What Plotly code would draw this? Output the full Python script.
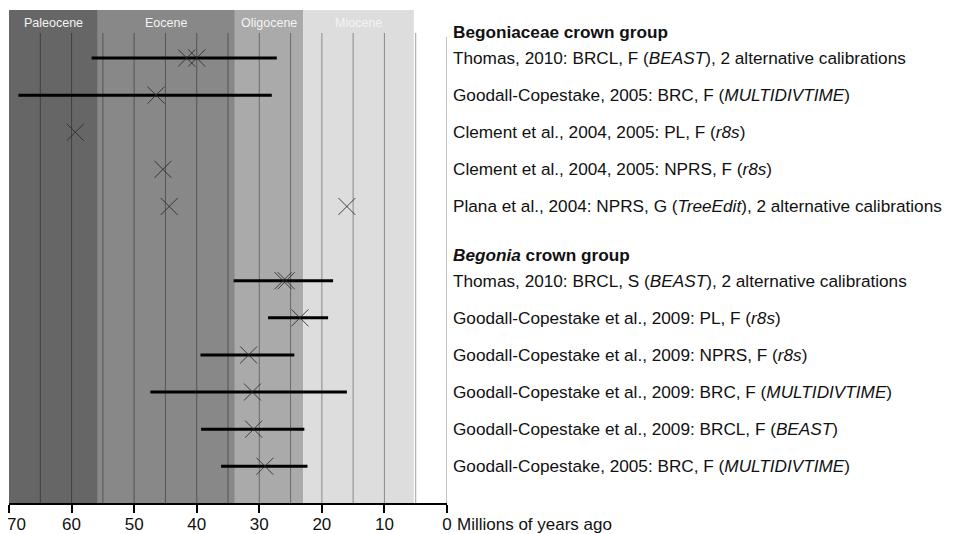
import plotly.graph_objects as go

# ---------------- data ----------------
epoch_names = ["Paleocene", "Eocene", "Oligocene", "Miocene"]
epoch_start = [70.0, 55.8, 33.9, 23.0]
epoch_end = [55.8, 33.9, 23.0, 5.3]
epoch_colors = ["#666666", "#888888", "#aaaaaa", "#dddddd"]

group_headers = ["<b>Begoniaceae crown group</b>", "<b><i>Begonia</i> crown group</b>"]
group_header_rows = [-0.7, 5.3]

row_labels = [
    "Thomas, 2010: BRCL, F (<i>BEAST</i>), 2 alternative calibrations",
    "Goodall-Copestake, 2005: BRC, F (<i>MULTIDIVTIME</i>)",
    "Clement et al., 2004, 2005: PL, F (<i>r8s</i>)",
    "Clement et al., 2004, 2005: NPRS, F (<i>r8s</i>)",
    "Plana et al., 2004: NPRS, G (<i>TreeEdit</i>), 2 alternative calibrations",
    "Thomas, 2010: BRCL, S (<i>BEAST</i>), 2 alternative calibrations",
    "Goodall-Copestake et al., 2009: PL, F (<i>r8s</i>)",
    "Goodall-Copestake et al., 2009: NPRS, F (<i>r8s</i>)",
    "Goodall-Copestake et al., 2009: BRC, F (<i>MULTIDIVTIME</i>)",
    "Goodall-Copestake et al., 2009: BRCL, F (<i>BEAST</i>)",
    "Goodall-Copestake, 2005: BRC, F (<i>MULTIDIVTIME</i>)",
]
row_pos = [0, 1, 2, 3, 4, 6, 7, 8, 9, 10, 11]

# confidence intervals (None = no interval shown)
ci_old = [56.8, 68.5, None, None, None, 34.1, 28.6, 39.4, 47.4, 39.3, 36.1]
ci_young = [27.2, 28.0, None, None, None, 18.2, 19.0, 24.4, 16.0, 22.8, 22.3]

# point estimates (one or two per row)
est_1 = [41.6, 46.5, 59.4, 45.4, 44.4, 26.2, 23.5, 31.7, 31.1, 30.9, 29.1]
est_2 = [40.0, None, None, None, 16.0, 25.7, None, None, None, None, None]

tick_vals = [70, 60, 50, 40, 30, 20, 10, 0]
tick_text = ["70", "60", "50", "40", "30", "20", "10", "0"]
grid_vals = [65, 60, 55, 50, 45, 40, 35, 30, 25, 20, 15, 10, 5]
axis_title = "Millions of years ago"

# ---------------- figure ----------------
OFF = 8  # page body margin
W, H = 964, 534
# target window-pixel geometry of the plot area
X_LEFT, X_RIGHT, Y_TOP, Y_BOT = 9, 447, 10, 503
ML = X_LEFT - OFF
MT = Y_TOP - OFF
MR = W - (X_RIGHT - OFF)
MB = H - (Y_BOT - OFF)
PW, PH = X_RIGHT - X_LEFT, Y_BOT - Y_TOP
FONT = "Liberation Sans, Arial, sans-serif"


def px_x(x):
    return (x - X_LEFT) / PW


def px_y(y):
    return (Y_BOT - y) / PH


fig = go.Figure()

shapes = []
for s, e, c in zip(epoch_start, epoch_end, epoch_colors):
    shapes.append(dict(type="rect", xref="x", yref="paper", x0=s, x1=e, y0=0, y1=1,
                       fillcolor=c, line=dict(width=0), layer="below"))
for g in grid_vals:
    shapes.append(dict(type="line", xref="x", yref="paper", x0=g, x1=g, y0=0, y1=px_y(33),
                       line=dict(color="rgba(0,0,0,0.38)", width=1), layer="below"))
shapes.append(dict(type="line", xref="x", yref="paper", x0=0, x1=0, y0=0, y1=px_y(37),
                   line=dict(color="#b0b0b0", width=1.5), layer="below"))

# intervals
lx, ly = [], []
for y, a, b in zip(row_pos, ci_old, ci_young):
    if a is None:
        continue
    lx += [a, b, None]
    ly += [y, y, None]
fig.add_trace(go.Scatter(x=lx, y=ly, mode="lines", line=dict(color="black", width=3),
                         hoverinfo="skip", showlegend=False, cliponaxis=False))

# point estimates
px_, py_ = [], []
for y, a, b in zip(row_pos, est_1, est_2):
    for v in (a, b):
        if v is not None:
            px_.append(v)
            py_.append(y)
fig.add_trace(go.Scatter(x=px_, y=py_, mode="markers",
                         marker=dict(symbol="x-thin", size=17,
                                     line=dict(color="rgba(40,40,40,0.85)", width=1)),
                         showlegend=False, cliponaxis=False))

annotations = []
for n, s, e in zip(epoch_names, epoch_start, epoch_end):
    annotations.append(dict(x=(s + e) / 2, y=px_y(23), xref="x", yref="paper", text=n,
                            showarrow=False, xanchor="center", yanchor="middle",
                            font=dict(family=FONT, size=12.5, color="#f4f4f4")))
for t, y in zip(row_labels, row_pos):
    annotations.append(dict(x=px_x(451), y=y, xref="paper", yref="y", text=t, showarrow=False,
                            xanchor="left", yanchor="middle",
                            font=dict(family=FONT, size=17.2, color="#111111")))
for t, y in zip(group_headers, group_header_rows):
    annotations.append(dict(x=px_x(451), y=y, xref="paper", yref="y", text=t, showarrow=False,
                            xanchor="left", yanchor="middle",
                            font=dict(family=FONT, size=17.2, color="#111111")))
annotations.append(dict(x=px_x(455), y=px_y(524), xref="paper", yref="paper",
                        text=axis_title, showarrow=False, xanchor="left", yanchor="middle",
                        font=dict(family=FONT, size=17, color="#111111")))
# the leftmost tick label sits flush with the left edge (as in the reference)
annotations.append(dict(x=px_x(8), y=px_y(524), xref="paper", yref="paper",
                        text=tick_text[0], showarrow=False, xanchor="left", yanchor="middle",
                        xshift=-3, font=dict(family=FONT, size=17, color="#111111")))
axis_ticktext = [""] + tick_text[1:]

fig.update_layout(
    width=W, height=H,
    margin=dict(l=ML, r=MR, t=MT, b=MB, pad=0, autoexpand=False),
    paper_bgcolor="white", plot_bgcolor="white",
    shapes=shapes, annotations=annotations,
    xaxis=dict(range=[70, 0], tickvals=tick_vals, ticktext=axis_ticktext, showgrid=False,
               zeroline=False, showline=True, linecolor="black", linewidth=2,
               ticks="outside", ticklen=8, tickwidth=2, tickcolor="black",
               tickfont=dict(family=FONT, size=17, color="#111111"),
               ticklabeloverflow="allow", ticklabelstandoff=-3,
               automargin=False, fixedrange=True),
    yaxis=dict(range=[11.99, -1.294], visible=False, showgrid=False, zeroline=False,
               automargin=False, fixedrange=True),
    hovermode=False,
)

fig.write_html("out.html")
